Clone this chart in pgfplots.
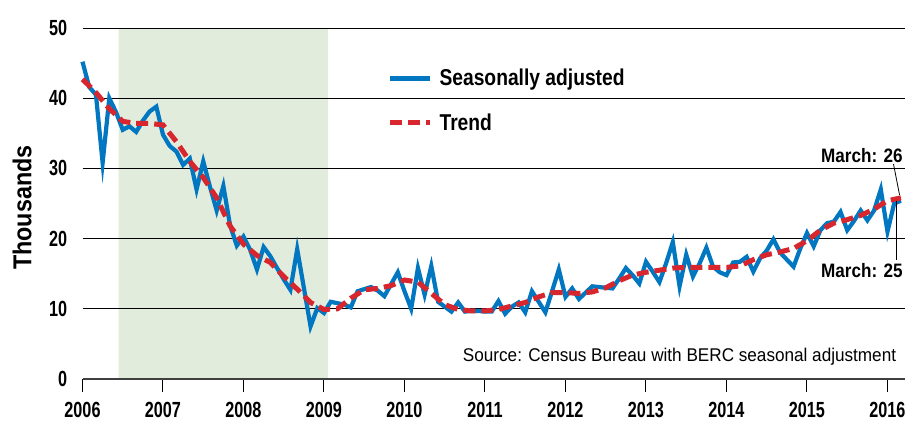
\documentclass[border=0pt]{standalone}
\usepackage{fontspec}
\setmainfont{Liberation Sans}
\newfontfamily\tickf{Liberation Sans}[FakeStretch=0.74]
\newfontfamily\legf{Liberation Sans}[FakeStretch=0.84]
\newfontfamily\thouf{Liberation Sans}[FakeStretch=0.9]
\newfontfamily\srcf{Liberation Sans}[FakeStretch=0.93]
\newfontfamily\marf{Liberation Sans}[FakeStretch=0.88]
\usepackage{pgfplots}
\usepackage{pgfplotstable}
\pgfplotsset{compat=1.18}
\definecolor{sablue}{HTML}{0077C0}
\definecolor{trred}{HTML}{D7262E}
\definecolor{shade}{HTML}{E1ECDD}

\pgfplotstableread[row sep=\\]{
x y\\
2006.000 45.2\\ 2006.083 41.6\\ 2006.167 40.5\\ 2006.250 30.8\\ 2006.333 40.0\\ 2006.417 38.0\\
2006.500 35.5\\ 2006.583 36.0\\ 2006.667 35.2\\ 2006.750 36.8\\ 2006.833 38.1\\ 2006.917 38.8\\
2007.000 34.8\\ 2007.083 33.2\\ 2007.167 32.4\\ 2007.250 30.5\\ 2007.333 31.4\\ 2007.417 27.0\\
2007.500 31.0\\ 2007.583 27.4\\ 2007.667 24.0\\ 2007.750 27.5\\ 2007.833 21.9\\ 2007.917 19.0\\
2008.000 20.3\\ 2008.083 18.4\\ 2008.167 15.6\\ 2008.250 18.8\\ 2008.333 17.5\\ 2008.417 15.8\\
2008.500 14.2\\ 2008.583 12.7\\ 2008.667 18.5\\ 2008.750 13.0\\ 2008.833 7.5\\ 2008.917 10.1\\
2009.000 9.4\\ 2009.083 11.0\\ 2009.167 10.8\\ 2009.250 10.6\\ 2009.333 10.2\\ 2009.417 12.5\\
2009.500 12.8\\ 2009.583 13.1\\ 2009.667 12.6\\ 2009.750 11.8\\ 2009.833 13.5\\ 2009.917 15.2\\
2010.000 12.5\\ 2010.083 10.0\\ 2010.167 15.8\\ 2010.250 12.0\\ 2010.333 16.1\\ 2010.417 11.0\\
2010.500 10.3\\ 2010.583 9.6\\ 2010.667 10.9\\ 2010.750 9.6\\ 2010.833 9.7\\ 2010.917 9.7\\
2011.000 9.6\\ 2011.083 9.6\\ 2011.167 11.1\\ 2011.250 9.3\\ 2011.333 10.3\\ 2011.417 10.9\\
2011.500 9.5\\ 2011.583 12.5\\ 2011.667 11.0\\ 2011.750 9.5\\ 2011.833 12.5\\ 2011.917 15.6\\
2012.000 11.7\\ 2012.083 12.9\\ 2012.167 11.4\\ 2012.250 12.3\\ 2012.333 13.2\\ 2012.417 13.1\\
2012.500 13.0\\ 2012.583 12.9\\ 2012.667 14.3\\ 2012.750 15.8\\ 2012.833 14.8\\ 2012.917 13.6\\
2013.000 16.7\\ 2013.083 15.3\\ 2013.167 13.8\\ 2013.250 16.5\\ 2013.333 19.5\\ 2013.417 13.2\\
2013.500 17.7\\ 2013.583 14.6\\ 2013.667 16.5\\ 2013.750 18.7\\ 2013.833 16.0\\ 2013.917 15.2\\
2014.000 14.8\\ 2014.083 16.6\\ 2014.167 16.7\\ 2014.250 17.4\\ 2014.333 15.3\\ 2014.417 17.2\\
2014.500 18.3\\ 2014.583 19.9\\ 2014.667 18.0\\ 2014.750 17.0\\ 2014.833 16.0\\ 2014.917 18.6\\
2015.000 20.8\\ 2015.083 18.9\\ 2015.167 21.2\\ 2015.250 22.2\\ 2015.333 22.4\\ 2015.417 23.8\\
2015.500 21.2\\ 2015.583 22.5\\ 2015.667 24.0\\ 2015.750 22.6\\ 2015.833 24.0\\ 2015.917 27.0\\
2016.000 21.0\\ 2016.083 25.0\\ 2016.167 25.4\\
}\satable

\pgfplotstableread[row sep=\\]{
x y\\
2006.000 42.7\\ 2006.167 40.8\\ 2006.333 38.5\\ 2006.500 36.7\\ 2006.667 36.4\\ 2006.833 36.4\\
2007.000 36.2\\ 2007.167 33.8\\ 2007.333 31.0\\ 2007.500 28.7\\ 2007.667 25.8\\ 2007.833 21.8\\
2008.000 19.2\\ 2008.167 17.6\\ 2008.333 16.6\\ 2008.500 14.6\\ 2008.667 12.8\\ 2008.833 10.9\\
2009.000 9.9\\ 2009.167 10.0\\ 2009.333 11.5\\ 2009.500 12.7\\ 2009.667 12.9\\ 2009.833 13.3\\
2010.000 14.1\\ 2010.167 13.8\\ 2010.333 12.2\\ 2010.500 10.6\\ 2010.667 9.9\\ 2010.833 9.7\\
2011.000 9.7\\ 2011.167 9.9\\ 2011.333 10.4\\ 2011.500 10.9\\ 2011.667 11.7\\ 2011.833 12.3\\
2012.000 12.3\\ 2012.167 12.2\\ 2012.333 12.4\\ 2012.500 13.0\\ 2012.667 14.0\\ 2012.833 14.8\\
2013.000 15.2\\ 2013.167 15.5\\ 2013.333 15.8\\ 2013.500 15.9\\ 2013.667 15.9\\ 2013.833 15.9\\
2014.000 15.9\\ 2014.167 16.1\\ 2014.333 17.0\\ 2014.500 17.7\\ 2014.667 18.1\\ 2014.833 18.6\\
2015.000 19.7\\ 2015.167 21.2\\ 2015.333 22.2\\ 2015.500 22.7\\ 2015.667 23.3\\ 2015.833 24.2\\
2016.000 25.4\\ 2016.167 25.8\\
}\trtable

\begin{document}
\begin{tikzpicture}
\begin{axis}[
  set layers,
  scale only axis,
  width=822.7bp, height=351bp,
  xmin=2006, xmax=2016.22, ymin=0, ymax=50,
  clip=false,
  axis x line=bottom,
  axis y line=left,
  x axis line style={-, draw=black!75, line width=1.6bp},
  y axis line style={draw=none},
  xtick={2006,2007,...,2016},
  ytick={0,10,...,50},
  ymajorgrids,
  grid style={black, line width=1bp},
  tick align=outside,
  xtick style={black, line width=1bp},
  ytick style={draw=none},
  major tick length=13bp,
  ticklabel style={font=\tickf\bfseries\fontsize{22}{22}\selectfont},
  yticklabel style={xshift=1bp},
  xticklabel style={yshift=-7bp},
  /pgf/number format/.cd, 1000 sep={}, assume math mode=true,
  /pgfplots/.cd,
  legend style={at={(axis cs:2009.75,44.7)}, anchor=north west, draw=none, fill=none,
    font=\legf\bfseries\fontsize{23}{23}\selectfont, row sep=22bp},
  legend cell align=left,
  legend image code/.code={\draw[#1] (0bp,0bp) -- (40bp,0bp); \path (45bp,0bp);},
]
\addplot[draw=none, fill=shade, on layer=axis background, forget plot]
  coordinates {(2006.45,0) (2006.45,50) (2009.05,50) (2009.05,0)} \closedcycle;
\addplot[sablue, line width=4.2bp] table[x=x, y=y] {\satable};
\addlegendentry{Seasonally adjusted}
\addplot[trred, line width=5bp, dash pattern=on 12bp off 6bp] table[x=x, y=y] {\trtable};
\addlegendentry{Trend}

\node[rotate=90, font=\thouf\bfseries\fontsize{26}{26}\selectfont] at (axis cs:2005.25,24.4) {Thousands};
\node[anchor=east, inner sep=0pt, font=\marf\bfseries\fontsize{19.5}{19.5}\selectfont] at (axis cs:2016.19,31.9) {March: 26};
\node[anchor=east, inner sep=0pt, font=\marf\bfseries\fontsize{19.5}{19.5}\selectfont] at (axis cs:2016.19,15.4) {March: 25};
\draw[black, line width=0.8bp] (axis cs:2016.075,30.6) -- (axis cs:2016.15,26.2);
\draw[black, line width=0.8bp] (axis cs:2016.11,25.3) -- (axis cs:2016.11,17.0);
\node[anchor=east, inner sep=0pt, font=\srcf\fontsize{18.5}{18.5}\selectfont] at (axis cs:2016.11,3.2) {Source: Census Bureau with BERC seasonal adjustment};
\end{axis}
\pgfresetboundingbox
\path[use as bounding box] (-82.5bp,-45bp) rectangle (830.5bp,379bp);
\end{tikzpicture}
\end{document}
